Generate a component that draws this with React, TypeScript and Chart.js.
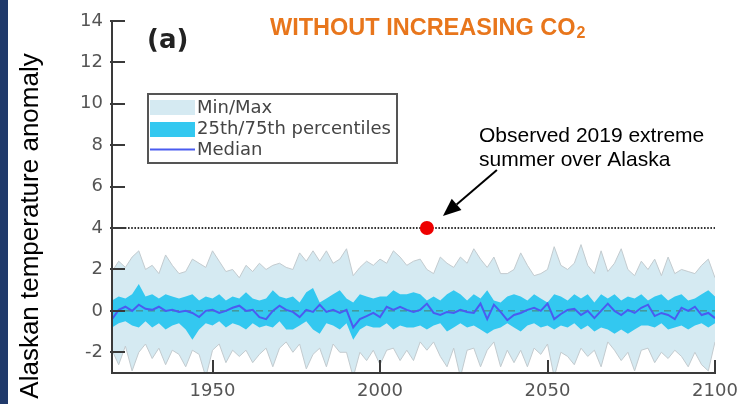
import React, { useEffect, useRef } from "react";
import { Chart, registerables } from "chart.js";

Chart.register(...registerables);

// ---------- data ----------
const years = [
  1920, 1922, 1924, 1926, 1928, 1930, 1932, 1934, 1936, 1938,
  1940, 1942, 1944, 1946, 1948, 1950, 1952, 1954, 1956, 1958,
  1960, 1962, 1964, 1966, 1968, 1970, 1972, 1974, 1976, 1978,
  1980, 1982, 1984, 1986, 1988, 1990, 1992, 1994, 1996, 1998,
  2000, 2002, 2004, 2006, 2008, 2010, 2012, 2014, 2016, 2018,
  2020, 2022, 2024, 2026, 2028, 2030, 2032, 2034, 2036, 2038,
  2040, 2042, 2044, 2046, 2048, 2050, 2052, 2054, 2056, 2058,
  2060, 2062, 2064, 2066, 2068, 2070, 2072, 2074, 2076, 2078,
  2080, 2082, 2084, 2086, 2088, 2090, 2092, 2094, 2096, 2098,
  2100,
];

const maxVals = [
  1.9, 2.4, 2.1, 2.6, 2.9, 2.0, 2.2, 1.8, 2.7, 2.2,
  1.8, 1.9, 2.5, 2.3, 2.1, 2.9, 2.4, 1.9, 2.0, 1.6,
  2.2, 1.9, 2.3, 2.0, 2.2, 2.3, 2.1, 2.0, 2.8, 2.4,
  2.9, 2.4, 2.9, 2.3, 2.5, 3.0, 1.7, 2.1, 2.4, 2.2,
  2.5, 2.3, 2.9, 2.6, 2.2, 2.4, 2.5, 2.0, 1.8, 2.6,
  2.3, 2.1, 2.6, 2.3, 3.0, 2.5, 2.1, 2.6, 1.8, 1.8,
  2.0, 2.8, 2.2, 1.7, 1.8, 2.0, 3.1, 2.2, 2.0, 2.3,
  3.2, 2.2, 1.8, 2.9, 1.9, 2.3, 3.0, 2.0, 1.7, 2.4,
  2.0, 2.5, 1.7, 2.6, 1.8, 2.0, 1.9, 1.8, 2.2, 2.5,
  1.6,
];

const minVals = [
  -1.9, -2.6, -1.7, -2.9, -2.0, -1.6, -2.3, -1.8, -2.6, -1.9,
  -2.1, -2.7, -1.9, -2.1, -3.2, -1.9, -1.6, -2.5, -1.9, -2.2,
  -1.9, -2.5, -2.1, -1.8, -2.7, -1.8, -1.5, -2.0, -1.6, -2.8,
  -2.1, -1.8, -2.7, -1.6, -2.0, -2.0, -3.2, -2.0, -2.4, -1.9,
  -2.6, -1.9, -1.8, -2.4, -1.9, -2.4, -1.5, -1.9, -1.5, -2.2,
  -2.7, -1.8, -3.2, -1.9, -1.8, -2.7, -1.9, -1.5, -2.7, -1.9,
  -2.5, -1.9, -2.7, -1.8, -2.1, -1.6, -3.2, -2.0, -2.2, -2.6,
  -1.8, -2.2, -1.9, -2.7, -1.5, -1.9, -2.4, -2.0, -2.9, -1.9,
  -1.8, -2.5, -2.0, -2.3, -1.9, -2.2, -2.7, -2.0, -2.6, -2.9,
  -1.5,
];

const p75Vals = [
  0.5, 0.7, 0.6, 0.8, 1.3, 0.7, 0.8, 0.6, 0.8, 0.7,
  0.6, 0.7, 0.8, 0.5, 0.7, 0.6, 0.8, 0.5, 0.7, 0.6,
  0.9, 0.6, 0.5, 0.6, 1.0, 0.7, 0.6, 0.7, 0.4, 0.9,
  1.1, 0.4, 0.6, 0.8, 1.0, 0.6, 0.4, 0.8, 0.7, 0.6,
  0.7, 0.7, 1.0, 0.8, 0.8, 0.9, 0.8, 0.5, 0.7, 0.5,
  0.8, 1.0, 0.8, 0.5, 0.8, 0.6, 1.0, 0.5, 0.4, 0.7,
  0.8, 0.7, 0.5, 0.8, 0.6, 0.4, 0.8, 0.7, 0.5, 0.8,
  0.6, 0.8, 0.4, 0.8, 0.6, 0.8, 0.5, 0.7, 0.6, 0.8,
  0.5, 0.7, 0.8, 0.5, 0.7, 0.8, 0.5, 0.6, 0.8, 1.0,
  0.7,
];

const p25Vals = [
  -0.8, -0.6, -0.5, -0.7, -0.8, -0.5, -0.8, -0.6, -0.9, -0.7,
  -0.6, -0.9, -1.4, -0.9, -0.6, -0.7, -0.5, -0.8, -0.6, -0.7,
  -0.9, -0.6, -0.8, -0.7, -0.8, -0.5, -0.9, -0.9, -0.7, -0.5,
  -0.9, -1.1, -0.6, -0.7, -0.9, -0.6, -1.4, -0.9, -0.7, -0.8,
  -0.8, -0.6, -0.9, -0.7, -0.8, -0.8, -0.7, -0.9, -0.7, -0.6,
  -1.0, -0.8, -0.6, -0.8, -0.7, -0.9, -1.1, -0.9, -0.8, -0.6,
  -0.8, -1.0, -0.7, -0.6, -0.8, -0.7, -0.9, -0.7, -0.8, -0.6,
  -0.9, -0.7, -1.0, -0.8, -0.9, -1.1, -0.9, -1.1, -0.9, -0.7,
  -0.7, -0.8, -0.6, -0.9, -0.8, -0.7, -0.9, -0.7, -0.6, -0.8,
  -0.6,
];

const medianVals = [
  -0.4, 0.05, 0.2, 0.0, 0.3, 0.1, 0.05, 0.2, 0.0, 0.05,
  -0.05, 0.0, -0.1, -0.3, 0.0, 0.05, -0.1, 0.0, 0.15, 0.25,
  0.0, 0.05, -0.3, -0.4, 0.0, 0.25, 0.05, -0.05, -0.3, 0.05,
  -0.05, 0.3, -0.05, 0.05, -0.1, 0.05, -0.8, -0.4, -0.25, -0.1,
  -0.3, 0.2, 0.05, 0.2, 0.05, -0.05, 0.05, 0.35, -0.1, -0.2,
  -0.05, -0.1, 0.05, -0.05, -0.1, 0.35, -0.4, 0.3, -0.05, -0.45,
  -0.2, -0.1, 0.05, 0.15, 0.0, 0.35, -0.4, -0.15, 0.05, 0.1,
  -0.2, 0.0, -0.35, 0.0, 0.35, 0.0, -0.2, 0.05, -0.1, 0.15,
  0.3, -0.25, -0.1, -0.2, -0.4, 0.15, 0.0, 0.2, -0.2, -0.1,
  -0.35,
];

const observedYears = [2014];
const observedValues = [4];
const referenceLevel = 4;
const zeroLevel = 0;
const xRange = [1920, 2100];
const yRange = [-3, 14];
const xTickValues = [1950, 2000, 2050, 2100];
const yTickValues = [-2, 0, 2, 4, 6, 8, 10, 12, 14];
const legendLabels = ["Min/Max", "25th/75th percentiles", "Median"];
const titleMain = "WITHOUT INCREASING CO";
const titleSub = "2";
const panelLabel = "(a)";
const yTitle = "Alaskan temperature anomaly";
const noteLines = ["Observed 2019 extreme", "summer over Alaska"];

// ---------- styles ----------
const C_LIGHT = "#d5eaf2";
const C_LIGHT_EDGE = "#c3cbcf";
const C_CYAN = "#33c8f0";
const C_MEDIAN = "#4a5cf0";
const C_AXIS = "#3a3a3a";
const C_TICK_TXT = "#555555";
const C_ORANGE = "#e8761c";

const decorPlugin = {
  id: "decor",
  beforeDraw(chart: any) {
    const c = chart.ctx;
    c.save();
    c.fillStyle = "#ffffff";
    c.fillRect(0, 0, chart.width, chart.height);
    c.fillStyle = "#203a6b";
    c.fillRect(0, 0, 8, chart.height);
    c.restore();
  },
  afterDatasetsDraw(chart: any) {
    const c = chart.ctx;
    const { left, bottom } = chart.chartArea;
    const xs = chart.scales.x;
    const ys = chart.scales.y;
    c.save();
    c.strokeStyle = C_AXIS;
    c.lineWidth = 2;
    c.beginPath();
    yTickValues.forEach((v) => {
      const p = Math.round(ys.getPixelForValue(v));
      c.moveTo(left - 2, p);
      c.lineTo(left + 13, p);
    });
    xTickValues.forEach((v) => {
      const p = Math.round(xs.getPixelForValue(v));
      c.moveTo(p, bottom + 1);
      c.lineTo(p, bottom - 13);
    });
    c.stroke();
    c.restore();
  },
  afterDraw(chart: any) {
    const c = chart.ctx;
    c.save();

    // y-axis title
    c.save();
    c.translate(37.5, 226);
    c.rotate(-Math.PI / 2);
    c.font = '26px "Liberation Sans", Arial, sans-serif';
    c.fillStyle = "#000";
    c.textAlign = "center";
    c.textBaseline = "alphabetic";
    c.fillText(yTitle, 0, 0);
    c.restore();

    // title
    c.fillStyle = C_ORANGE;
    c.textAlign = "left";
    c.textBaseline = "alphabetic";
    c.font = 'bold 23.5px "Liberation Sans", Arial, sans-serif';
    c.fillText(titleMain, 270, 35);
    const w = c.measureText(titleMain).width;
    c.font = 'bold 16px "Liberation Sans", Arial, sans-serif';
    c.fillText(titleSub, 270 + w + 1, 37.5);

    // panel label
    c.fillStyle = "#222";
    c.font = 'bold 26px "DejaVu Sans", sans-serif';
    c.fillText(panelLabel, 147, 48);

    // legend
    c.fillStyle = "#fff";
    c.fillRect(148, 94, 249, 69);
    c.strokeStyle = "#555";
    c.lineWidth = 2;
    c.strokeRect(148, 94, 249, 69);
    c.fillStyle = C_LIGHT;
    c.fillRect(150, 100, 45, 15);
    c.fillStyle = C_CYAN;
    c.fillRect(150, 122, 45, 15);
    c.strokeStyle = C_MEDIAN;
    c.lineWidth = 2;
    c.beginPath();
    c.moveTo(150, 149.5);
    c.lineTo(195, 149.5);
    c.stroke();
    c.fillStyle = "#444";
    c.font = '18px "DejaVu Sans", sans-serif';
    c.textBaseline = "middle";
    c.fillText(legendLabels[0], 197, 108);
    c.fillText(legendLabels[1], 197, 129);
    c.fillText(legendLabels[2], 197, 150);

    // note text
    c.fillStyle = "#000";
    c.textBaseline = "alphabetic";
    c.font = '21px "Liberation Sans", Arial, sans-serif';
    c.fillText(noteLines[0], 479, 141.5);
    c.fillText(noteLines[1], 479, 166);

    // arrow toward the observed point
    const pt = chart.getDatasetMeta(0).data[0];
    if (pt) {
      const tipX = pt.x + 16, tipY = pt.y - 12;
      const tailX = pt.x + 70, tailY = pt.y - 58;
      const ang = Math.atan2(tipY - tailY, tipX - tailX);
      const hl = 18, hw = 7.5;
      const bx = tipX - hl * Math.cos(ang), by = tipY - hl * Math.sin(ang);
      c.strokeStyle = "#000";
      c.lineWidth = 2;
      c.beginPath();
      c.moveTo(tailX, tailY);
      c.lineTo(bx, by);
      c.stroke();
      c.fillStyle = "#000";
      c.beginPath();
      c.moveTo(tipX, tipY);
      c.lineTo(bx + hw * Math.sin(ang), by - hw * Math.cos(ang));
      c.lineTo(bx - hw * Math.sin(ang), by + hw * Math.cos(ang));
      c.closePath();
      c.fill();
    }
    c.restore();
  },
};

export default function App() {
  const ref = useRef<HTMLCanvasElement>(null);

  useEffect(() => {
    const canvas = ref.current;
    if (!canvas) return;
    const pts = (arr: number[]) => years.map((x, i) => ({ x, y: arr[i] }));
    const flat = (v: number) => [
      { x: xRange[0], y: v },
      { x: xRange[1], y: v },
    ];

    const chart = new Chart(canvas, {
      type: "line",
      data: {
        datasets: [
          {
            label: "Observed 2019",
            data: observedYears.map((x, i) => ({ x, y: observedValues[i] })),
            showLine: false,
            pointRadius: 7,
            pointBackgroundColor: "#ee0000",
            pointBorderWidth: 0,
            borderColor: "#ee0000",
          },
          {
            label: legendLabels[2],
            data: pts(medianVals),
            borderColor: C_MEDIAN,
            borderWidth: 2,
            pointRadius: 0,
            fill: false,
          },
          {
            label: "zero",
            data: flat(zeroLevel),
            borderColor: "#4f7d6b",
            borderWidth: 1,
            borderDash: [7, 5],
            pointRadius: 0,
            fill: false,
          },
          {
            label: "reference",
            data: flat(referenceLevel),
            borderColor: "#333",
            borderWidth: 2,
            borderDash: [1.6, 1.6],
            pointRadius: 0,
            fill: false,
          },
          {
            label: legendLabels[1],
            data: pts(p75Vals),
            borderWidth: 0,
            borderColor: C_CYAN,
            backgroundColor: C_CYAN,
            pointRadius: 0,
            fill: "+1",
          },
          {
            label: "25th",
            data: pts(p25Vals),
            borderWidth: 0,
            borderColor: C_CYAN,
            pointRadius: 0,
            fill: false,
          },
          {
            label: legendLabels[0],
            data: pts(maxVals),
            borderWidth: 1,
            borderColor: C_LIGHT_EDGE,
            backgroundColor: C_LIGHT,
            pointRadius: 0,
            fill: "+1",
          },
          {
            label: "Min",
            data: pts(minVals),
            borderWidth: 1,
            borderColor: C_LIGHT_EDGE,
            pointRadius: 0,
            fill: false,
          },
        ],
      },
      options: {
        responsive: false,
        animation: false,
        devicePixelRatio: 1,
        layout: { padding: { left: 0, top: 21, right: 23, bottom: 0 } },
        elements: { line: { tension: 0 } },
        plugins: {
          legend: { display: false },
          tooltip: { enabled: false },
          filler: { drawTime: "beforeDatasetsDraw", propagate: false },
        },
        scales: {
          x: {
            type: "linear",
            min: xRange[0],
            max: xRange[1],
            afterBuildTicks: (s: any) => {
              s.ticks = xTickValues.map((v) => ({ value: v }));
            },
            afterFit: (s: any) => {
              s.height = 31;
              s.paddingLeft = 0;
              s.paddingRight = 0;
            },
            grid: { display: false, drawTicks: false },
            border: { display: true, color: C_AXIS, width: 2, z: 1 },
            ticks: {
              font: { family: "DejaVu Sans", size: 18 },
              color: C_TICK_TXT,
              padding: 8,
              maxRotation: 0,
              autoSkip: false,
              callback: (v: any) => String(v),
            },
          },
          y: {
            type: "linear",
            min: yRange[0],
            max: yRange[1],
            afterBuildTicks: (s: any) => {
              s.ticks = yTickValues.map((v) => ({ value: v }));
            },
            afterFit: (s: any) => {
              s.width = 112;
              s.paddingTop = 0;
              s.paddingBottom = 0;
            },
            grid: { display: false, drawTicks: false },
            border: { display: true, color: C_AXIS, width: 2, z: 1 },
            ticks: {
              font: { family: "DejaVu Sans", size: 18 },
              color: C_TICK_TXT,
              padding: 9,
              autoSkip: false,
              callback: (v: any) => String(v),
            },
          },
        },
      },
      plugins: [decorPlugin],
    } as any);

    return () => chart.destroy();
  }, []);

  return (
    <div
      style={{
        position: "fixed",
        left: 0,
        top: 0,
        width: 738,
        height: 404,
        background: "#fff",
        overflow: "hidden",
      }}
    >
      <canvas ref={ref} width={738} height={404} style={{ display: "block" }} />
    </div>
  );
}
